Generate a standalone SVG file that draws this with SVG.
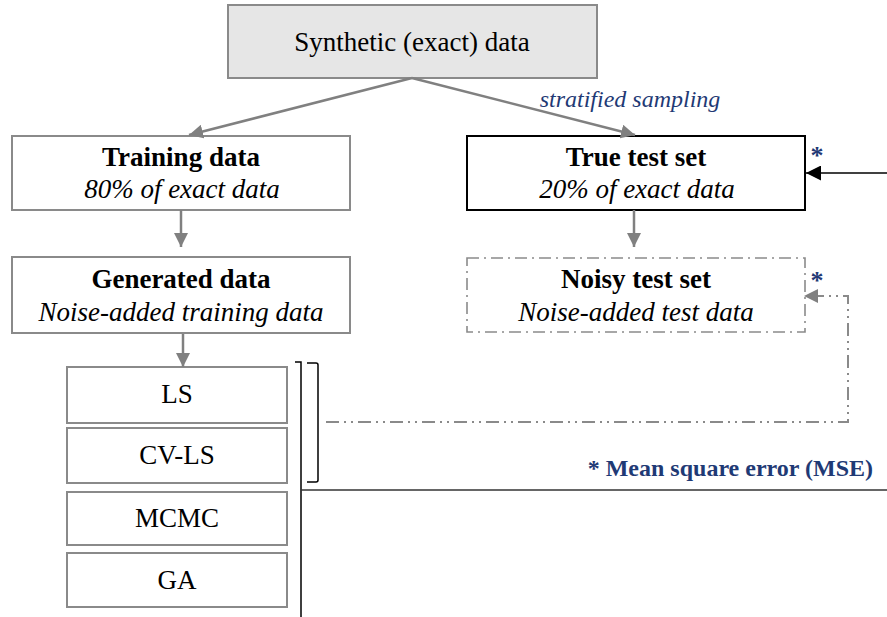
<svg xmlns="http://www.w3.org/2000/svg" width="887" height="617" viewBox="0 0 887 617">
  <style>
    .box { fill: #ffffff; stroke: #8a8a8a; stroke-width: 2; }
    .t { font-family: "Liberation Serif", "Times New Roman", serif; font-size: 27px; fill: #000; text-anchor: middle; }
    .b { font-weight: bold; }
    .i { font-style: italic; }
    .note { font-family: "Liberation Serif", "Times New Roman", serif; fill: #1f3a75; }
    .arrow { stroke: #808080; stroke-width: 2.5; fill: none; marker-end: url(#grayHead); }
    .dashdot { stroke: #8a8a8a; stroke-width: 2; fill: none; stroke-dasharray: 13 5 2 5 2 5; }
  </style>
  <defs>
    <marker id="grayHead" viewBox="0 0 10 10" refX="10" refY="5" markerWidth="14" markerHeight="14" markerUnits="userSpaceOnUse" orient="auto">
      <path d="M0,0 L10,5 L0,10 z" fill="#808080"/>
    </marker>
    <marker id="blackHead" viewBox="0 0 10 10" refX="10" refY="5" markerWidth="15" markerHeight="15" markerUnits="userSpaceOnUse" orient="auto">
      <path d="M0,0 L10,5 L0,10 z" fill="#000"/>
    </marker>
  </defs>

  <g id="synthetic">
    <rect x="228" y="5" width="369" height="73" fill="#e6e6e6" stroke="#8a8a8a" stroke-width="2"/>
    <text class="t" x="412" y="51">Synthetic (exact) data</text>
  </g>

  <g id="training">
    <rect class="box" x="12" y="136" width="338" height="74"/>
    <text class="t b" x="181" y="166">Training data</text>
    <text class="t i" x="182" y="198">80% of exact data</text>
  </g>

  <g id="true-test">
    <rect x="467" y="136" width="338" height="74" fill="#fff" stroke="#000" stroke-width="2"/>
    <text class="t b" x="636" y="166">True test set</text>
    <text class="t i" x="637" y="198">20% of exact data</text>
  </g>

  <g id="generated">
    <rect class="box" x="12" y="257" width="338" height="76"/>
    <text class="t b" x="181" y="288">Generated data</text>
    <text class="t i" x="181" y="321">Noise-added training data</text>
  </g>

  <g id="noisy-test">
    <rect x="467" y="258" width="338" height="74" fill="#fff" stroke="#8a8a8a" stroke-width="1.6" stroke-dasharray="12 5 2 5"/>
    <text class="t b" x="636" y="288">Noisy test set</text>
    <text class="t i" x="636" y="321">Noise-added test data</text>
  </g>

  <g id="ls">
    <rect class="box" x="67" y="367" width="220" height="56"/>
    <text class="t" x="177" y="403">LS</text>
  </g>
  <g id="cv-ls">
    <rect class="box" x="67" y="428" width="220" height="55"/>
    <text class="t" x="177" y="464">CV-LS</text>
  </g>
  <g id="mcmc">
    <rect class="box" x="67" y="492" width="220" height="53"/>
    <text class="t" x="177" y="527">MCMC</text>
  </g>
  <g id="ga">
    <rect class="box" x="67" y="553" width="220" height="54"/>
    <text class="t" x="177" y="589">GA</text>
  </g>

  <g id="connectors">
    <line class="arrow" x1="412" y1="78" x2="189" y2="135"/>
    <line class="arrow" x1="412" y1="78" x2="635" y2="135"/>
    <line class="arrow" x1="181" y1="210" x2="181" y2="247"/>
    <line class="arrow" x1="634" y1="210" x2="634" y2="247"/>
    <line class="arrow" x1="183" y1="334" x2="183" y2="367"/>

    <!-- outer bracket spanning all methods -->
    <path d="M295,362 H301 V617" fill="none" stroke="#000" stroke-width="1.5"/>
    <line x1="301" y1="490" x2="887" y2="490" stroke="#333" stroke-width="1.5"/>
    <!-- inner bracket over LS and CV-LS -->
    <path d="M307,363 H316 Q318,363 318,365 V480 Q318,482 316,482 H307" fill="none" stroke="#000" stroke-width="1.5"/>

    <!-- dash-dot feedback into the noisy test set -->
    <path class="dashdot" d="M326,422 H848 V296 H818"/>
    <path d="M804,296 L818,289 L818,303 z" fill="#808080"/>

    <!-- MSE arrow into the true test set -->
    <line x1="887" y1="173" x2="806" y2="173" stroke="#000" stroke-width="1.5" marker-end="url(#blackHead)"/>
  </g>

  <g id="labels">
    <text class="note" x="630" y="107" font-size="24" font-style="italic" text-anchor="middle">stratified sampling</text>
    <text class="note" x="817" y="164" font-size="26" font-weight="bold" text-anchor="middle">*</text>
    <text class="note" x="817" y="289" font-size="26" font-weight="bold" text-anchor="middle">*</text>
    <text class="note" x="873" y="476" font-size="24" font-weight="bold" text-anchor="end">* Mean square error (MSE)</text>
  </g>
</svg>
